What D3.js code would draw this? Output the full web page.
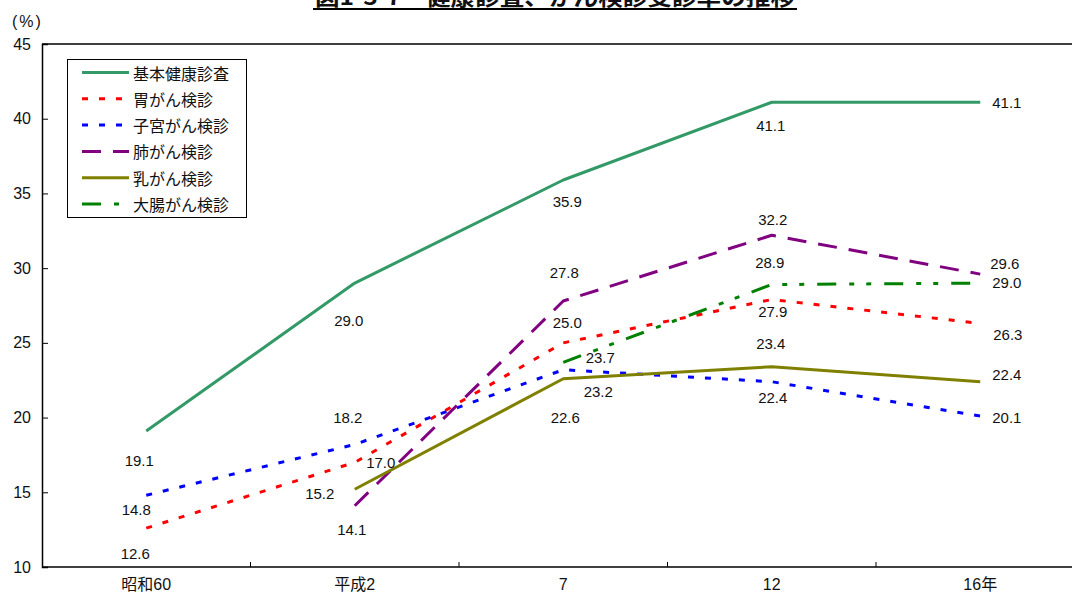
<!DOCTYPE html>
<html lang="ja">
<head>
<meta charset="utf-8">
<script src="https://cdn.jsdelivr.net/npm/d3@7"></script>
<style>
  html, body { margin: 0; padding: 0; background: #fff; }
  svg { display: block; }
  text { font-family: "Liberation Sans", Arial, "Noto Sans CJK JP", sans-serif; fill: #111; }
  .jp { font-family: "Noto Sans CJK JP", "Liberation Sans", sans-serif; }
</style>
</head>
<body>
<svg id="chart" width="1072" height="597"></svg>
<script>
// 年次（昭和60年〜平成16年）
const categories = ["昭和60", "平成2", "7", "12", "16年"];

// 受診率（％）
const seriesNames = ["基本健康診査", "胃がん検診", "子宮がん検診", "肺がん検診", "乳がん検診", "大腸がん検診"];
const kihonKenshin = [19.1, 29.0, 35.9, 41.1, 41.1];
const iGan        = [12.6, 17.0, 25.0, 27.9, 26.3];
const shikyuGan   = [14.8, 18.2, 23.2, 22.4, 20.1];
const haiGan      = [null, 14.1, 27.8, 32.2, 29.6];
const nyuGan      = [null, 15.2, 22.6, 23.4, 22.4];
const daichoGan   = [null, null, 23.7, 28.9, 29.0];

const yTicks = [10, 15, 20, 25, 30, 35, 40, 45];
const titleText = "図1-3-7　健康診査、がん検診受診率の推移";

const seriesValues = [kihonKenshin, iGan, shikyuGan, haiGan, nyuGan, daichoGan];

// 線の色と線種
const styles = [
  { color: "#339966", dash: null },
  { color: "#ff0000", dash: "6,11" },
  { color: "#0000ff", dash: "6,11" },
  { color: "#800080", dash: "19,12" },
  { color: "#808000", dash: null },
  { color: "#008000", dash: "19,13,5,12,5,13" }
];

// 数値ラベルの位置（点からのずれ、anchor）
const labelPlacement = [
  [[-7, 29], [-6, 37], [4, 22], [-1, 23], [12, 0, "start"]],
  [[-11, 25], [26, 0], [4, -20], [1, 12], [13, 11, "start"]],
  [[-10, 14], [-7, -27], [35, 22], [1, 16], [12, 1, "start"]],
  [null, [-3, 24], [1, -29], [1, -16], [10, -11, "start"]],
  [null, [-35, 4], [2, 39], [-1, -23], [12, -7, "start"]],
  [null, null, [37, -5], [-2, -22], [12, -1, "start"]]
];

const svg = d3.select("#chart");
const W = 1072;
const plotLeft = 42, plotTop = 44, plotBottom = 567;

const x = d3.scaleBand().domain(categories).range([plotLeft, plotLeft + 5 * 208.5]).paddingInner(0).paddingOuter(0);
const cx = c => x(c) + x.bandwidth() / 2;
const y = d3.scaleLinear().domain([10, 45]).range([plotBottom, plotTop]);

// タイトル（下線付き）
svg.append("text")
  .attr("class", "jp")
  .attr("x", 555).attr("y", 5)
  .attr("text-anchor", "middle")
  .attr("font-size", 22).attr("font-weight", "bold")
  .attr("textLength", 480).attr("lengthAdjust", "spacingAndGlyphs")
  .text(titleText);
svg.append("line")
  .attr("x1", 313).attr("x2", 797)
  .attr("y1", 9).attr("y2", 9)
  .attr("stroke", "#000").attr("stroke-width", 2);

// 単位
svg.append("text")
  .attr("x", 12).attr("y", 21)
  .attr("dominant-baseline", "central")
  .attr("font-size", 16)
  .attr("letter-spacing", 2)
  .text("(%)");

// 枠線（上辺）
svg.append("line")
  .attr("x1", plotLeft).attr("x2", W)
  .attr("y1", plotTop).attr("y2", plotTop)
  .attr("stroke", "#000").attr("stroke-width", 1.5);

// 縦軸
const yAxis = d3.axisLeft(y).tickValues(yTicks).tickSize(-6).tickPadding(11);
const gy = svg.append("g").attr("transform", `translate(${plotLeft},0)`).call(yAxis);
gy.select(".domain").attr("stroke", "#000").attr("stroke-width", 1.5);
gy.selectAll(".tick line").attr("stroke", "#000");
gy.selectAll(".tick text").attr("font-size", 16).attr("fill", "#111")
  .style("font-family", "'Liberation Sans', Arial, sans-serif");

// 横軸
const xAxis = d3.axisBottom(x).tickSize(0).tickPadding(12);
const gx = svg.append("g").attr("transform", `translate(0,${plotBottom})`).call(xAxis);
gx.select(".domain").remove();
gx.selectAll(".tick text").attr("font-size", 16).attr("fill", "#111")
  .style("font-family", "'Liberation Sans', Arial, 'Noto Sans CJK JP', sans-serif");
svg.append("line")
  .attr("x1", plotLeft).attr("x2", W)
  .attr("y1", plotBottom).attr("y2", plotBottom)
  .attr("stroke", "#000").attr("stroke-width", 1.5);
// 区切り目盛
svg.append("g").selectAll("line")
  .data(categories.slice(1))
  .join("line")
  .attr("x1", d => x(d)).attr("x2", d => x(d))
  .attr("y1", plotBottom).attr("y2", plotBottom - 5)
  .attr("stroke", "#000").attr("stroke-width", 1);

// 折れ線
const line = d3.line()
  .x(d => cx(d.c))
  .y(d => y(d.v));

const seriesData = seriesValues.map(vals => vals.map((v, i) => ({ c: categories[i], v, i })));

svg.append("g").selectAll("path")
  .data(seriesData)
  .join("path")
  .attr("d", d => line(d.filter(p => p.v != null)))
  .attr("fill", "none")
  .attr("stroke", (d, i) => styles[i].color)
  .attr("stroke-width", 3)
  .attr("stroke-dasharray", (d, i) => styles[i].dash)
  .attr("stroke-linejoin", "round");

// 数値ラベル
seriesData.forEach((pts, si) => {
  svg.append("g").selectAll("text")
    .data(pts.filter(p => p.v != null))
    .join("text")
    .attr("x", p => cx(p.c) + labelPlacement[si][p.i][0])
    .attr("y", p => y(p.v) + labelPlacement[si][p.i][1])
    .attr("text-anchor", p => labelPlacement[si][p.i][2] || "middle")
    .attr("dominant-baseline", "central")
    .attr("font-size", 15)
    .text(p => p.v.toFixed(1));
});

// 凡例
const lg = svg.append("g");
lg.append("rect")
  .attr("x", 67.5).attr("y", 59.5).attr("width", 179).attr("height", 158)
  .attr("fill", "#fff").attr("stroke", "#000").attr("stroke-width", 1);
const rowY = i => 72.5 + i * 26.3;
seriesNames.forEach((name, i) => {
  lg.append("line")
    .attr("x1", 82).attr("x2", 129)
    .attr("y1", rowY(i)).attr("y2", rowY(i))
    .attr("stroke", styles[i].color)
    .attr("stroke-width", 3)
    .attr("stroke-dasharray", styles[i].dash);
  lg.append("text")
    .attr("class", "jp")
    .attr("x", 133).attr("y", rowY(i))
    .attr("dominant-baseline", "central")
    .attr("font-size", 16)
    .text(name);
});
</script>
</body>
</html>
